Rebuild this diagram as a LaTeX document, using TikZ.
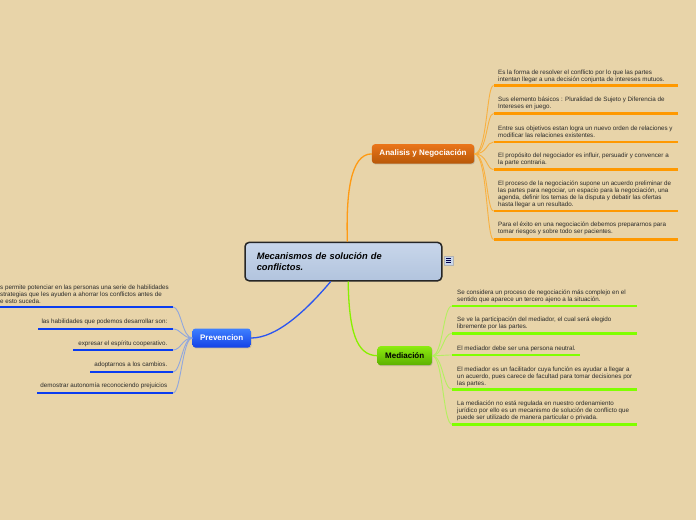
\documentclass[tikz,border=0pt]{standalone}
\usepackage{fontspec}
\setmainfont{Liberation Sans}
\usetikzlibrary{calc,shadows}
\definecolor{bg}{HTML}{E8D4A9}
\definecolor{txtc}{HTML}{2A2A2A}
\definecolor{ormain}{HTML}{FF9A12}
\definecolor{orsub}{HTML}{F8B040}
\definecolor{orline}{HTML}{FF9900}
\definecolor{grmain}{HTML}{88F000}
\definecolor{grsub}{HTML}{B4F060}
\definecolor{grline}{HTML}{80FF00}
\definecolor{blmain}{HTML}{2A55F0}
\definecolor{blsub}{HTML}{8FA6DE}
\definecolor{blline}{HTML}{0A3CF0}
\definecolor{ortop}{HTML}{EA751A}
\definecolor{orbot}{HTML}{B85808}
\definecolor{grtop}{HTML}{8CEB10}
\definecolor{grbot}{HTML}{5CB000}
\definecolor{bltop}{HTML}{3F80FF}
\definecolor{blbot}{HTML}{1442E6}
\definecolor{ctop}{HTML}{C8D6EA}
\definecolor{cbot}{HTML}{B2C4DE}
\newcommand\subfont{\fontsize{6.25}{7}\selectfont}
\begin{document}
\begin{tikzpicture}[x=1pt,y=-1pt,
  subtxt/.style={font=\subfont, text=txtc, inner sep=0pt, align=left},
  subtxtr/.style={font=\subfont, text=txtc, inner sep=0pt, align=right},
  topicbox/.style={rounded corners=3pt, inner sep=0pt, font=\fontsize{8}{9}\selectfont\bfseries,
     drop shadow={shadow xshift=0.6pt, shadow yshift=-0.9pt, opacity=0.35}},
  ortopic/.style={topicbox, top color=ortop, bottom color=orbot, text=white},
  grtopic/.style={topicbox, top color=grtop, bottom color=grbot, text=black},
  bltopic/.style={topicbox, top color=bltop, bottom color=blbot, text=white},
  mainor/.style={draw=ormain, line width=1.3pt},
  maingr/.style={draw=grmain, line width=1.3pt},
  mainbl/.style={draw=blmain, line width=1.3pt},
  subor/.style={draw=orsub, line width=0.9pt},
  subgr/.style={draw=grsub, line width=0.9pt},
  subbl/.style={draw=blsub, line width=0.9pt},
  ulor/.style={draw=orline, line width=2.6pt},
  ulgr/.style={draw=grline, line width=2.6pt},
  ulbl/.style={draw=blline, line width=2.6pt}]
\useasboundingbox[fill=bg] (0,0) rectangle (696,520);

% central node
\node (c) [draw=black!85, line width=1.5pt, rounded corners=4pt,
  top color=ctop, bottom color=cbot,
  minimum width=196.7pt, minimum height=38.3pt, text width=173.3pt, inner xsep=11.7pt,
  align=left, anchor=north west, font=\fontsize{9.3}{11}\selectfont\bfseries\itshape]
  at (244.3,241.7) {Mecanismos de solución de\\conflictos.};
\node (ic) [draw=black!30, fill=ctop, minimum width=8.5pt, minimum height=9.5pt,
  inner sep=0pt, anchor=north west] at (444,255.5) {};
\foreach \k in {-2.4,0,2.4}
  \draw[line width=0.8pt, blue!30!black] ($(ic.center)+(-2.3,\k)$) -- ($(ic.center)+(2.3,\k)$);

% topic nodes
\node (an) [ortopic, minimum width=102.3pt, minimum height=19.3pt, anchor=north west] at (371.7,144) {Analisis y Negociación};
\node (me) [grtopic, minimum width=54.4pt, minimum height=19pt, anchor=north west] at (377.3,346) {Mediación};
\node (pr) [bltopic, minimum width=58.4pt, minimum height=19pt, anchor=north west] at (192.3,328.3) {Prevencion};

% main connectors
\draw[mainor] ($(c.north west)!0.52!(c.north east)$) .. controls (346,195) and (350,154) .. (an.west);
\draw[maingr] ($(c.south west)!0.524!(c.south east)$) .. controls (349,330) and (356,355.5) .. (me.west);
\draw[mainbl] ($(c.south west)!0.436!(c.south east)$) .. controls (305,312) and (276,338) .. (pr.east);

% Analisis subtopics
\node (a1) [subtxt, anchor=north west] at (498,69.3) {Es la forma de resolver el conflicto por lo que las partes\\intentan llegar a una decisión conjunta de intereses mutuos.};
\node (a2) [subtxt, anchor=north west] at (498,97) {Sus elemento básicos : Pluralidad de Sujeto y Diferencia de\\Intereses en juego.};
\node (a3) [subtxt, anchor=north west] at (498,125.3) {Entre sus objetivos estan logra un nuevo orden de relaciones y\\modificar las relaciones existentes.};
\node (a4) [subtxt, anchor=north west] at (498,153) {El propósito del negociador es influir, persuadir y convencer a\\la parte contraria.};
\node (a5) [subtxt, anchor=north west] at (498,181) {El proceso de la negociación supone un acuerdo preliminar de\\las partes para negociar, un espacio para la negociación, una\\agenda, definir los temas de la disputa y debatir las ofertas\\hasta llegar a un resultado.};
\node (a6) [subtxt, anchor=north west] at (498,222) {Para el éxito en una negociación debemos prepararnos para\\tomar riesgos y sobre todo ser pacientes.};
\foreach \i/\y in {1/85.5,2/113.5,3/142,4/169.5,5/211,6/239.5}{
  \coordinate (aus\i) at (493.5,\y);
  \coordinate (aue\i) at (678,\y);
  \draw[subor] (an.east) .. controls +(13,0) and +(-7,0) .. (aus\i);
  \draw[ulor] (aus\i) -- (aue\i);
}

% Mediacion subtopics
\node (m1) [subtxt, anchor=north west] at (457,289.3) {Se considera un proceso de negociación más complejo en el\\sentido que aparece un tercero ajeno a la situación.};
\node (m2) [subtxt, anchor=north west] at (457,317) {Se ve la participación del mediador, el cual será elegido\\libremente por las partes.};
\node (m3) [subtxt, anchor=north west] at (457,346) {El mediador debe ser una persona neutral.};
\node (m4) [subtxt, anchor=north west] at (457,367) {El mediador es un facilitador cuya función es ayudar a llegar a\\un acuerdo, pues carece de facultad para tomar decisiones por\\las partes.};
\node (m5) [subtxt, anchor=north west] at (457,400.3) {La mediación no está regulada en nuestro ordenamiento\\jurídico por ello es un mecanismo de solución de conflicto que\\puede ser utilizado de manera particular o privada.};
\foreach \i/\y/\e in {1/306/637,2/333.3/637,3/355/580,4/389.3/637,5/424.3/637}{
  \coordinate (mus\i) at (452,\y);
  \coordinate (mue\i) at (\e,\y);
  \draw[subgr] (me.east) .. controls +(11,0) and +(-9,0) .. (mus\i);
  \draw[ulgr] (mus\i) -- (mue\i);
}

% Prevencion subtopics
\node (p1) [subtxt, anchor=north west] at (0,284.3) {s permite potenciar en las personas una serie de habilidades\\strategias que les ayuden a ahorrar los conflictos antes de\\e esto suceda.};
\node (p2) [subtxtr, anchor=north east] at (167.5,318.3) {las habilidades que podemos desarrollar son:};
\node (p3) [subtxtr, anchor=north east] at (167.5,340.3) {expresar el espíritu cooperativo.};
\node (p4) [subtxtr, anchor=north east] at (167.5,362) {adoptarnos a los cambios.};
\node (p5) [subtxtr, anchor=north east] at (167.5,383) {demostrar autonomía reconociendo prejuicios};
\foreach \i/\y/\s in {1/307/0,2/329/38,3/350/73,4/372/90,5/393/37}{
  \coordinate (pue\i) at (173,\y);
  \coordinate (pus\i) at (\s,\y);
  \draw[subbl] (pr.west) .. controls +(-10,0) and +(8,0) .. (pue\i);
  \draw[ulbl] (pus\i) -- (pue\i);
}
\end{tikzpicture}
\end{document}
